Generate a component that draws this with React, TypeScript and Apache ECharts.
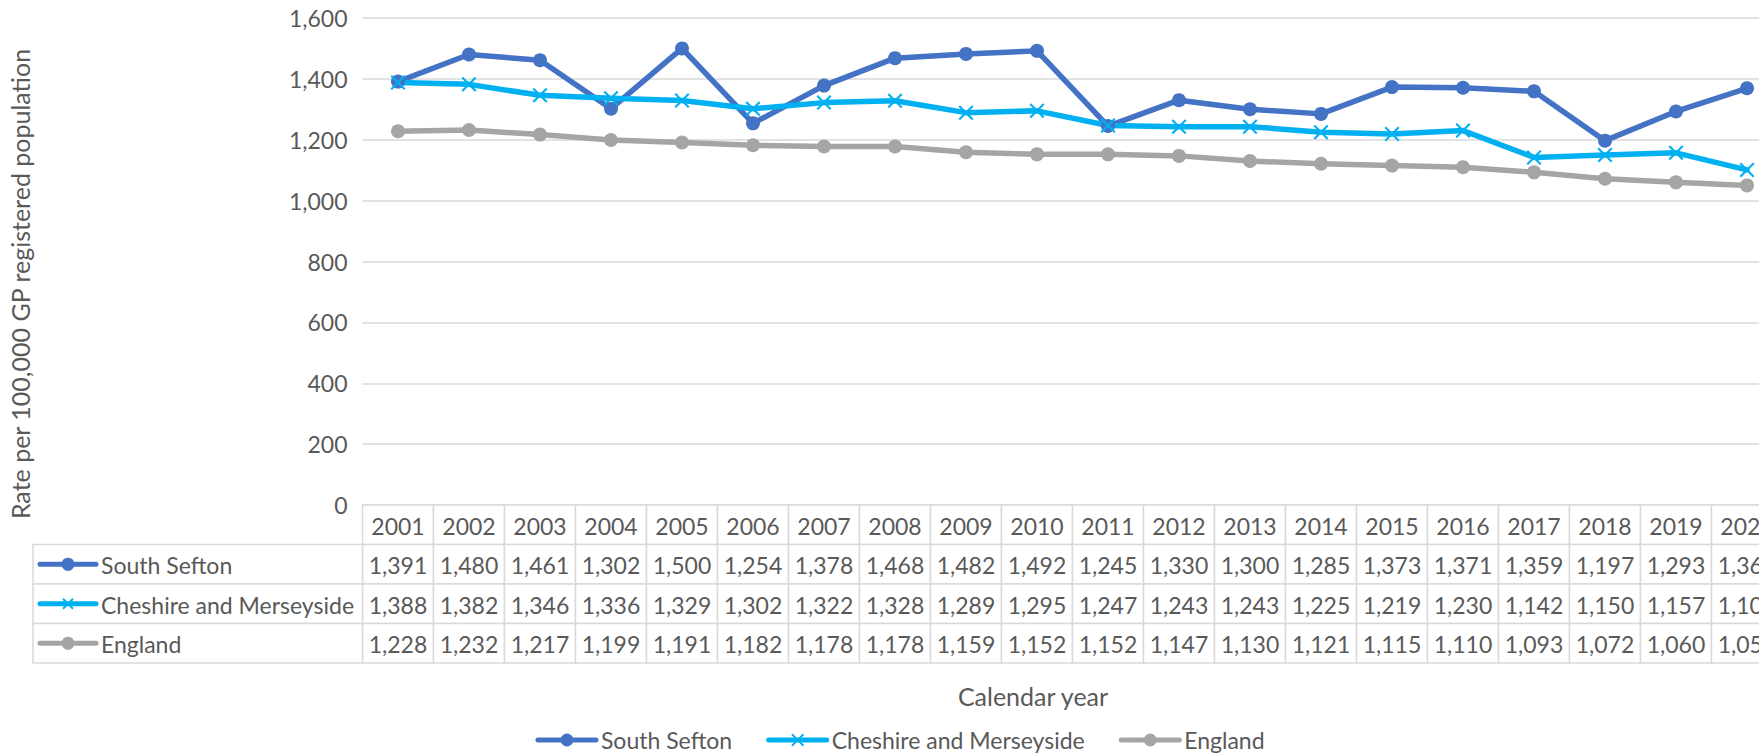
import React, { useEffect, useRef } from "react";
import * as echarts from "echarts";

const years = ["2001", "2002", "2003", "2004", "2005", "2006", "2007", "2008", "2009", "2010", "2011", "2012", "2013", "2014", "2015", "2016", "2017", "2018", "2019", "2020"];
const southSefton = [1391, 1480, 1461, 1302, 1500, 1254, 1378, 1468, 1482, 1492, 1245, 1330, 1300, 1285, 1373, 1371, 1359, 1197, 1293, 1369];
const cheshireMerseyside = [1388, 1382, 1346, 1336, 1329, 1302, 1322, 1328, 1289, 1295, 1247, 1243, 1243, 1225, 1219, 1230, 1142, 1150, 1157, 1101];
const england = [1228, 1232, 1217, 1199, 1191, 1182, 1178, 1178, 1159, 1152, 1152, 1147, 1130, 1121, 1115, 1110, 1093, 1072, 1060, 1050];
const seriesNames = ["South Sefton", "Cheshire and Merseyside", "England"];
const seriesColors = ["#4472C4", "#00B0F0", "#A5A5A5"];
const seriesSymbols = ["circle", "cross", "circle"];
const tableRows = ["year", ...seriesNames];
const yAxisTitle = "Rate per 100,000 GP registered population";
const xAxisTitle = "Calendar year";

const seriesValues = [southSefton, cheshireMerseyside, england];

const TEXT = "#595959";
const GRID_LINE = "#d9d9d9";
const FONT = "Lato, 'Noto Sans', sans-serif";
const FS = 23;
const FS_TITLE = 25;
const CROSS = "path://M0,2 L2,0 L10,8 L18,0 L20,2 L12,10 L20,18 L18,20 L10,12 L2,20 L0,18 L8,10 Z";

const fmt = (v: number) => v.toLocaleString("en-US");

export default function App() {
  const ref = useRef<HTMLDivElement>(null);
  useEffect(() => {
    if (!ref.current) return;
    const chart = echarts.init(ref.current, undefined, { renderer: "svg" });

    const tableData: number[][] = [];
    tableRows.forEach((_, r) => {
      years.forEach((_, i) => tableData.push([i, r]));
    });

    const tableLeft = 33;

    const option: any = {
      animation: false,
      backgroundColor: "#ffffff",
      grid: [
        { left: 362.5, right: 17.5, top: 18, height: 487, containLabel: false },
        { left: 362.5, right: 17.5, top: 505, height: 158, containLabel: false },
      ],
      xAxis: [
        {
          type: "category",
          gridIndex: 0,
          data: years,
          boundaryGap: true,
          axisLine: { show: false },
          axisTick: { show: false },
          axisLabel: { show: false },
        },
        {
          type: "category",
          gridIndex: 1,
          data: years,
          boundaryGap: true,
          show: false,
        },
      ],
      yAxis: [
        {
          type: "value",
          gridIndex: 0,
          min: 0,
          max: 1600,
          interval: 200,
          axisLine: { show: false },
          axisTick: { show: false },
          axisLabel: {
            color: TEXT,
            fontSize: FS,
            fontFamily: FONT,
            margin: 15,
            formatter: (v: number) => fmt(v),
          },
          splitLine: { lineStyle: { color: GRID_LINE, width: 1.5 } },
        },
        {
          type: "category",
          gridIndex: 1,
          data: tableRows,
          inverse: true,
          show: false,
        },
      ],
      legend: {
        data: seriesNames,
        left: "center",
        top: 727,
        padding: 0,
        itemWidth: 58,
        itemHeight: 16,
        itemGap: 34,
        lineStyle: { width: 5, cap: "round" },
        textStyle: { color: TEXT, fontSize: FS, fontFamily: FONT, lineHeight: 26 },
      },
      graphic: [
        {
          type: "text",
          x: 20,
          y: 284,
          rotation: Math.PI / 2,
          style: {
            text: yAxisTitle,
            align: "center",
            verticalAlign: "middle",
            fill: TEXT,
            fontSize: FS_TITLE,
            fontFamily: FONT,
          },
        },
        {
          type: "text",
          x: 1033,
          y: 696,
          style: {
            text: xAxisTitle,
            align: "center",
            verticalAlign: "middle",
            fill: TEXT,
            fontSize: FS_TITLE,
            fontFamily: FONT,
          },
        },
      ],
      series: [
        ...seriesNames.map((name, k) => ({
          name,
          type: "line",
          xAxisIndex: 0,
          yAxisIndex: 0,
          data: seriesValues[k],
          symbol: seriesSymbols[k] === "cross" ? CROSS : "circle",
          symbolSize: seriesSymbols[k] === "cross" ? 15 : 14,
          showAllSymbol: true,
          lineStyle: { color: seriesColors[k], width: 5.5, cap: "round", join: "round" },
          itemStyle: { color: seriesColors[k] },
          emphasis: { disabled: true },
        })),
        {
          type: "custom",
          xAxisIndex: 1,
          yAxisIndex: 1,
          data: tableData,
          silent: true,
          renderItem: (params: any, api: any) => {
            const xi = api.value(0) as number;
            const r = api.value(1) as number;
            const c = api.coord([xi, r]);
            const s = api.size([1, 1]) as number[];
            const w = s[0];
            const h = s[1];
            const x0 = c[0] - w / 2;
            const y0 = c[1] - h / 2;
            const text = r === 0 ? years[xi] : fmt(seriesValues[r - 1][xi]);
            const children: any[] = [
              {
                type: "rect",
                shape: { x: x0, y: y0, width: w, height: h },
                style: { fill: "#ffffff", stroke: GRID_LINE, lineWidth: 1.5 },
              },
              {
                type: "text",
                style: {
                  text,
                  x: c[0],
                  y: c[1] + 1,
                  align: "center",
                  verticalAlign: "middle",
                  fill: TEXT,
                  fontSize: FS,
                  fontFamily: FONT,
                },
              },
            ];
            if (xi === 0 && r > 0) {
              const k = r - 1;
              const color = seriesColors[k];
              children.push({
                type: "rect",
                shape: { x: tableLeft, y: y0, width: x0 - tableLeft, height: h },
                style: { fill: "#ffffff", stroke: GRID_LINE, lineWidth: 1.5 },
              });
              const lx1 = tableLeft + 7;
              const lx2 = tableLeft + 63;
              const mx = (lx1 + lx2) / 2;
              children.push({
                type: "line",
                shape: { x1: lx1, y1: c[1], x2: lx2, y2: c[1] },
                style: { stroke: color, lineWidth: 5, lineCap: "round" },
              });
              if (seriesSymbols[k] === "cross") {
                const d = 5;
                children.push({
                  type: "line",
                  shape: { x1: mx - d, y1: c[1] - d, x2: mx + d, y2: c[1] + d },
                  style: { stroke: color, lineWidth: 2 },
                });
                children.push({
                  type: "line",
                  shape: { x1: mx - d, y1: c[1] + d, x2: mx + d, y2: c[1] - d },
                  style: { stroke: color, lineWidth: 2 },
                });
              } else {
                children.push({
                  type: "circle",
                  shape: { cx: mx, cy: c[1], r: 6.5 },
                  style: { fill: color },
                });
              }
              children.push({
                type: "text",
                style: {
                  text: seriesNames[k],
                  x: tableLeft + 68,
                  y: c[1] + 1,
                  align: "left",
                  verticalAlign: "middle",
                  fill: TEXT,
                  fontSize: FS,
                  fontFamily: FONT,
                },
              });
            }
            return { type: "group", children };
          },
        },
      ],
    };

    chart.setOption(option);
    return () => chart.dispose();
  }, []);

  return (
    <div
      style={{
        position: "fixed",
        left: 0,
        top: 0,
        width: "100vw",
        height: "100vh",
        overflow: "hidden",
        background: "#ffffff",
      }}
    >
      <div ref={ref} style={{ width: 1800, height: 754 }} />
    </div>
  );
}
